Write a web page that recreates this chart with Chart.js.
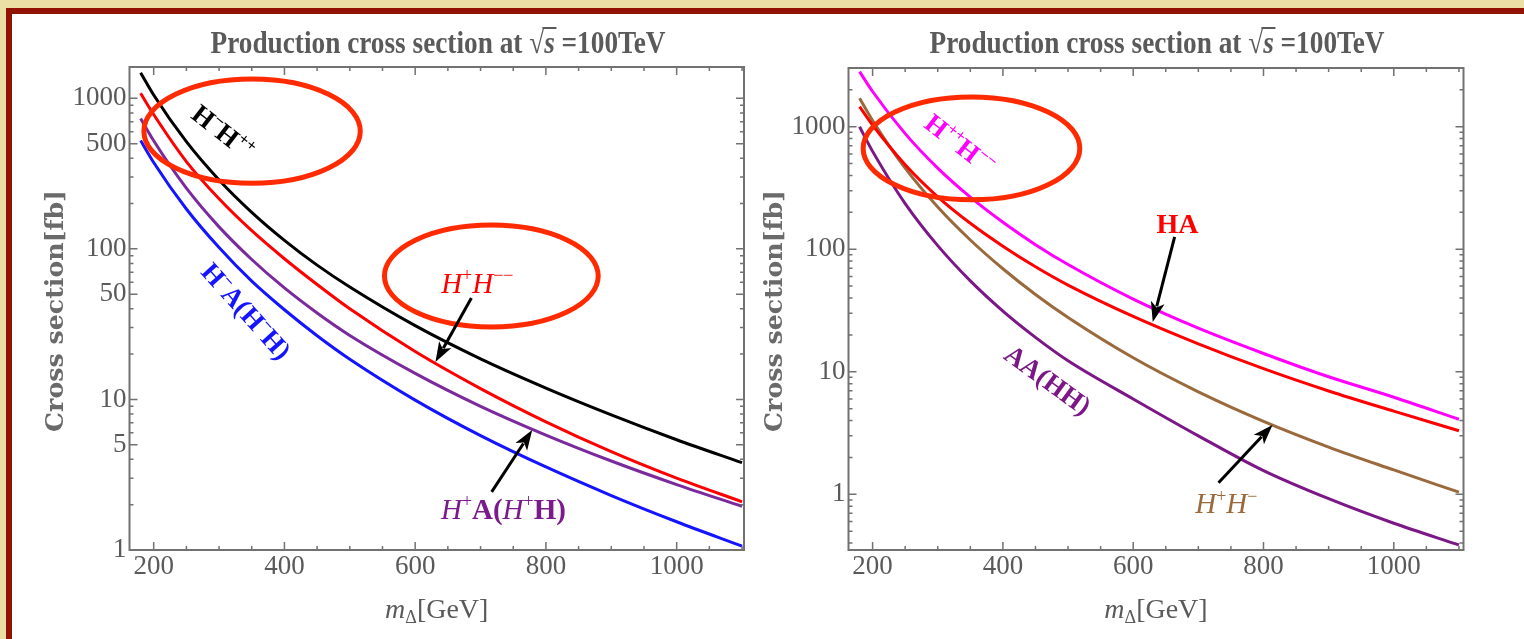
<!DOCTYPE html>
<html>
<head>
<meta charset="utf-8">
<script src="https://cdn.jsdelivr.net/npm/chart.js@4.4.0/dist/chart.umd.min.js"></script>
<style>
html, body { margin: 0; padding: 0; }
body { width: 1524px; height: 639px; background: #ebdfa6; position: relative; overflow: hidden; }
#frame { position: absolute; left: 6px; top: 8px; width: 1540px; height: 650px; background: #fff;
         border-left: 6px solid #911200; border-top: 6px solid #911200; box-sizing: border-box; }
canvas { position: absolute; left: 0; top: 0; }
</style>
</head>
<body>
<div id="frame"></div>
<canvas id="left" width="1524" height="639"></canvas>
<canvas id="right" width="1524" height="639"></canvas>
<script>
const masses = [180, 200, 250, 300, 350, 400, 450, 500, 600, 700, 800, 900, 1000, 1100];
const xTicks = [200, 400, 600, 800, 1000];
const leftYTicks = [1, 5, 10, 50, 100, 500, 1000];
const rightYTicks = [1, 10, 100, 1000];

// left panel, cross sections in fb
const sigHmHpp = [1480, 1052, 515, 287, 175, 114, 78, 55.8, 30.9, 18.6, 11.9, 7.9, 5.4, 3.8];
const sigHpHmm = [1080, 780, 380, 215, 132, 86, 58, 40, 20.8, 11.8, 7.1, 4.5, 3.0, 2.09];
const sigHpA = [735, 522, 253, 140, 85, 55, 37.5, 26.6, 14.9, 9.0, 5.8, 3.9, 2.72, 1.95];
const sigHmA = [525, 375, 184, 102, 61, 39.4, 26.5, 18.5, 9.9, 5.75, 3.56, 2.3, 1.54, 1.06];

// right panel
const sigHppHmm = [2818, 1938, 878, 459, 266, 166, 109, 75, 39.2, 22.7, 14.1, 9.1, 6.2, 4.1];
const sigHA = [1460, 1030, 490, 268, 163, 106, 72, 51, 28.3, 16.9, 10.6, 6.97, 4.77, 3.3];
const sigHpHm = [1710, 1122, 459, 221, 119, 69.3, 42.7, 27.7, 13.0, 6.86, 3.94, 2.43, 1.58, 1.04];
const sigAA = [1000, 629, 236, 107, 55.2, 31.3, 19.1, 12.3, 6.0, 3.0, 1.56, 0.92, 0.58, 0.386];

const serif = '"Liberation Serif"';
const grey = '#5a5a5a';

function richText(ctx, parts, cx, cy, deg, size, color) {
    ctx.save();
    ctx.translate(cx, cy);
    ctx.rotate(deg * Math.PI / 180);
    ctx.fillStyle = color;
    ctx.textBaseline = 'alphabetic';
    ctx.textAlign = 'left';
    let fonts = parts.map(p => {
        let st = p[1];
        let sz = (st.includes('u') || st.includes('d')) ? size * 0.62 : size;
        return (st.includes('i') ? 'italic ' : '') + (st.includes('b') ? 'bold ' : '') + sz + 'px ' + serif;
    });
    let w = 0;
    parts.forEach((p, k) => { ctx.font = fonts[k]; w += ctx.measureText(p[0]).width; });
    let x = -w / 2;
    parts.forEach((p, k) => {
        ctx.font = fonts[k];
        let dy = p[1].includes('u') ? -size * 0.4 : (p[1].includes('d') ? size * 0.2 : 0);
        ctx.fillText(p[0], x, size * 0.33 + dy);
        x += ctx.measureText(p[0]).width;
    });
    ctx.restore();
}

function arrow(ctx, x1, y1, x2, y2) {
    let a = Math.atan2(y2 - y1, x2 - x1), L = 20, W = 7;
    let bx = x2 - L * Math.cos(a), by = y2 - L * Math.sin(a);
    ctx.strokeStyle = '#000';
    ctx.fillStyle = '#000';
    ctx.lineWidth = 3;
    ctx.beginPath(); ctx.moveTo(x1, y1); ctx.lineTo(bx + 4 * Math.cos(a), by + 4 * Math.sin(a)); ctx.stroke();
    ctx.beginPath();
    ctx.moveTo(x2, y2);
    ctx.lineTo(bx - W * Math.sin(a), by + W * Math.cos(a));
    ctx.lineTo(bx + 5 * Math.cos(a), by + 5 * Math.sin(a));
    ctx.lineTo(bx + W * Math.sin(a), by - W * Math.cos(a));
    ctx.closePath();
    ctx.fill();
}

// frame with inward ticks on four sides
const framePlugin = {
    id: 'frame',
    afterDatasetsDraw(chart, args, opts) {
        let ctx = chart.ctx, a = chart.chartArea;
        let xs = chart.scales.x, ys = chart.scales.y;
        ctx.save();
        ctx.strokeStyle = '#727272';
        ctx.lineWidth = 1.5;
        for (let m = 200; m <= xs.max; m += 50) {
            let px = xs.getPixelForValue(m);
            let len = (m % 200 === 0) ? 8 : 4;
            ctx.beginPath();
            ctx.moveTo(px, a.bottom); ctx.lineTo(px, a.bottom - len);
            ctx.moveTo(px, a.top); ctx.lineTo(px, a.top + len);
            ctx.stroke();
        }
        for (let d = 0.1; d < ys.max; d *= 10) {
            for (let k = 1; k <= 9; k++) {
                let v = k * d;
                if (v < ys.min || v > ys.max) continue;
                let py = ys.getPixelForValue(v);
                let major = opts.major.some(t => Math.abs(t - v) < 1e-6 * t);
                let len = major ? 8 : 4;
                ctx.beginPath();
                ctx.moveTo(a.left, py); ctx.lineTo(a.left + len, py);
                ctx.moveTo(a.right, py); ctx.lineTo(a.right - len, py);
                ctx.stroke();
            }
        }
        ctx.lineWidth = 2;
        ctx.strokeRect(a.left, a.top, a.right - a.left, a.bottom - a.top);
        ctx.restore();
    }
};

// titles, ellipses, arrows and curve labels
const notesPlugin = {
    id: 'notes',
    afterDraw(chart, args, o) {
        let ctx = chart.ctx, a = chart.chartArea;
        let xs = chart.scales.x, ys = chart.scales.y;
        let X = v => xs.getPixelForValue(v), Y = v => ys.getPixelForValue(v);
        let cx = (a.left + a.right) / 2;
        ctx.save();

        // plot title, condensed
        let f = 'bold 32px ' + serif, fi = 'italic bold 32px ' + serif;
        let tparts = [['Production cross section at ', f], ['\u221A', f], ['s', fi], [' =100TeV', f]];
        let tw = 0, widths = [];
        tparts.forEach(p => { ctx.font = p[1]; let w = ctx.measureText(p[0]).width; widths.push(w); tw += w; });
        let sc = 455 / tw;
        ctx.translate(o.titleX - 455 / 2, 53);
        ctx.scale(sc, 1);
        ctx.fillStyle = grey;
        ctx.strokeStyle = grey;
        let tx = 0;
        tparts.forEach((p, k) => {
            ctx.font = p[1];
            ctx.fillText(p[0], tx, 0);
            if (k === 2) {
                ctx.lineWidth = 2;
                ctx.beginPath(); ctx.moveTo(tx - 2, -25); ctx.lineTo(tx + widths[k] + 2, -25); ctx.stroke();
            }
            tx += widths[k];
        });
        ctx.restore();

        // x axis title
        ctx.save();
        ctx.fillStyle = grey;
        let xparts = [['m', 'italic 28px ' + serif, 0], ['\u0394', '18px ' + serif, 5], ['[GeV]', '28px ' + serif, 0]];
        let xw = 0;
        xparts.forEach(p => { ctx.font = p[1]; xw += ctx.measureText(p[0]).width; });
        let xx = cx - xw / 2;
        xparts.forEach(p => { ctx.font = p[1]; ctx.fillText(p[0], xx, 618 + p[2]); xx += ctx.measureText(p[0]).width; });
        ctx.restore();

        // y axis title
        ctx.save();
        ctx.fillStyle = '#6a6a6a';
        ctx.font = 'bold 25px "DejaVu Serif"';
        ctx.textAlign = 'center';
        ctx.textBaseline = 'middle';
        let yw = ctx.measureText('Cross section[fb]').width;
        ctx.translate(o.yTitleX, 311);
        ctx.rotate(-Math.PI / 2);
        ctx.scale(242 / yw, 1);
        ctx.fillText('Cross section[fb]', 0, 0);
        ctx.restore();

        // red ellipses
        ctx.save();
        ctx.strokeStyle = '#ff2a00';
        ctx.lineWidth = 5;
        o.ellipses.forEach(e => {
            let x1 = X(e[0]), x2 = X(e[1]), y1 = Y(e[2]), y2 = Y(e[3]);
            ctx.beginPath();
            ctx.ellipse((x1 + x2) / 2, (y1 + y2) / 2, (x2 - x1) / 2, (y2 - y1) / 2, 0, 0, 2 * Math.PI);
            ctx.stroke();
        });
        ctx.restore();

        o.arrows.forEach(r => arrow(ctx, X(r[0]), Y(r[1]), X(r[2]), Y(r[3])));
        o.labels.forEach(l => richText(ctx, l.parts, X(l.at[0]), Y(l.at[1]), l.rot, l.size || 29, l.color));
    }
};

function series(values, color) {
    return {
        data: masses.map((m, i) => ({ x: m, y: values[i] })),
        borderColor: color,
        borderWidth: 3,
        pointRadius: 0,
        fill: false,
        cubicInterpolationMode: 'monotone'
    };
}

function makeChart(id, datasets, yTicks, yMin, yMax, xMax, padding, notes) {
    return new Chart(document.getElementById(id), {
        type: 'line',
        data: { datasets: datasets },
        options: {
            responsive: false,
            animation: false,
            layout: { padding: padding },
            plugins: {
                legend: { display: false },
                tooltip: { enabled: false },
                frame: { major: yTicks },
                notes: notes
            },
            scales: {
                x: {
                    type: 'linear', min: 163, max: xMax,
                    grid: { display: false, drawTicks: false },
                    border: { display: false },
                    afterBuildTicks: s => { s.ticks = xTicks.map(v => ({ value: v })); },
                    afterFit: s => { s.height = 40; },
                    ticks: { font: { family: 'Liberation Serif', size: 27 }, color: grey, padding: 1, maxRotation: 0, autoSkip: false,
                             callback: v => String(v) }
                },
                y: {
                    type: 'logarithmic', min: yMin, max: yMax,
                    grid: { display: false, drawTicks: false },
                    border: { display: false },
                    afterBuildTicks: s => { s.ticks = yTicks.map(v => ({ value: v })); },
                    afterFit: s => { s.width = 60; },
                    ticks: { font: { family: 'Liberation Serif', size: 27 }, color: grey, padding: 3, autoSkip: false,
                             callback: v => String(v) }
                }
            }
        },
        plugins: [framePlugin, notesPlugin]
    });
}

makeChart('left', [
    series(sigHmHpp, '#000000'),
    series(sigHpHmm, '#ff0000'),
    series(sigHpA, '#7a2a9c'),
    series(sigHmA, '#1414ff')
], leftYTicks, 1, 1614, 1103, { left: 69.5, right: 780, top: 67, bottom: 49 }, {
    titleX: 438, yTitleX: 56,
    ellipses: [[185, 516, 1341, 273], [553, 880, 144, 30.3]],
    arrows: [[686, 47.1, 631, 17.7], [717, 2.43, 779, 6.26]],
    labels: [
        { at: [306, 597], rot: 38, color: '#000', size: 27, parts: [['H', 'b'], ['\u2212', 'bu'], ['H', 'b'], ['++', 'bu']] },
        { at: [695, 59.3], rot: 0, color: '#ff0000', parts: [['H', 'i'], ['+', 'u'], ['H', 'i'], ['\u2212\u2212', 'u']] },
        { at: [341.6, 38.6], rot: 48, color: '#1414ff', size: 27, parts: [['H', 'b'], ['\u2212', 'bu'], ['A(', 'b'], ['H', 'b'], ['\u2212', 'bu'], ['H)', 'b']] },
        { at: [735, 1.87], rot: 0, color: '#7a1a8c', parts: [['H', 'i'], ['+', 'u'], ['A(', 'b'], ['H', 'i'], ['+', 'u'], ['H)', 'b']] }
    ]
});

makeChart('right', [
    series(sigHppHmm, '#ff00ff'),
    series(sigHA, '#ff0000'),
    series(sigHpHm, '#9a6a3c'),
    series(sigAA, '#7b1787')
], rightYTicks, 0.351, 3014, 1107, { left: 788.5, right: 60.5, top: 68, bottom: 49 }, {
    titleX: 1157, yTitleX: 775,
    ellipses: [[185.5, 518, 1750, 253]],
    arrows: [[663.6, 126, 630, 25.5], [731, 1.24, 813.8, 3.68]],
    labels: [
        { at: [334, 720], rot: 38, color: '#ff00ff', size: 27, parts: [['H', 'b'], ['++', 'bu'], ['H', 'b'], ['\u2212\u2212', 'bu']] },
        { at: [668, 160], rot: 0, color: '#ff0000', size: 28, parts: [['HA', 'b']] },
        { at: [469, 8.57], rot: 36, color: '#7b1787', size: 27, parts: [['AA(HH)', 'b']] },
        { at: [743, 0.836], rot: 0, color: '#9a6a3c', parts: [['H', 'i'], ['+', 'u'], ['H', 'i'], ['\u2212', 'u']] }
    ]
});
</script>
</body>
</html>
